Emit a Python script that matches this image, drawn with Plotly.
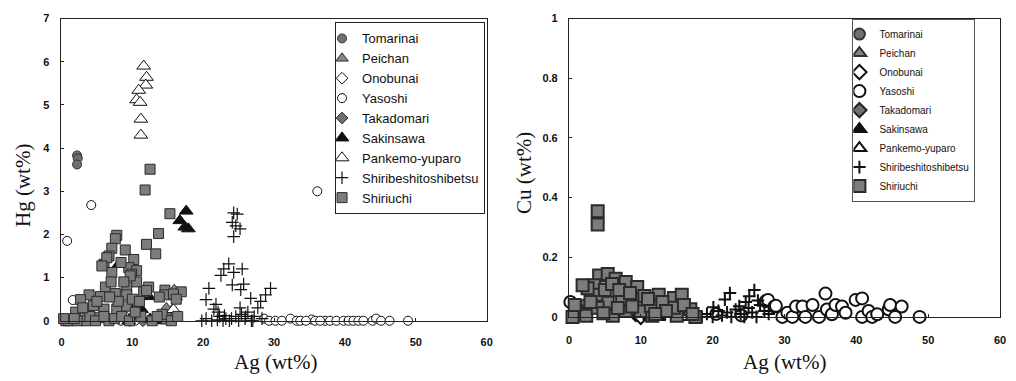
import plotly.graph_objects as go

W, H = 1016, 381

# ---------------- data: left panel (Ag vs Hg) ----------------
tomarinai_ag_l = [2.2, 2.3, 2.2, 2.0]
tomarinai_hg = [3.83, 3.76, 3.62, 0.05]

peichan_ag_l = [15.9, 15.6, 16.2, 9.0, 15.3, 14.8]
peichan_hg = [0.72, 0.25, 0.55, 0.05, 0.0, 0.3]

onobunai_ag_l = [9.3, 9.6, 10.2]
onobunai_hg = [0.05, 0.0, 0.12]

yasoshi_ag_l = [0.8, 4.2, 36.1, 1.6, 10.4, 16.0, 8.4, 28.6, 29.3, 30.2, 31.1, 32.3,
                33.2, 33.7, 35.3, 35.8, 37.2, 37.9, 38.8, 39.8, 40.5, 41.2, 41.9,
                42.6, 43.9, 44.4, 45.1, 46.3, 48.9, 34.5, 36.5]
yasoshi_hg = [1.85, 2.68, 3.0, 0.48, 0.0, 0.1, 0.0, 0.05, 0.0, 0.0, 0.0, 0.05,
              0.0, 0.0, 0.03, 0.0, 0.0, 0.0, 0.0, 0.0, 0.0, 0.0, 0.0,
              0.0, 0.0, 0.05, 0.0, 0.0, 0.0, 0.0, 0.0]

takadomari_ag_l = [10.8, 11.5]
takadomari_hg = [0.2, 0.0]

sakinsawa_ag_l = [17.6, 16.7, 17.4, 17.9, 8.1, 9.7, 10.6, 11.3, 10.6, 12.5, 13.2, 9.5, 12.3]
sakinsawa_hg = [2.54, 2.32, 2.17, 2.13, 1.31, 0.3, 0.22, 0.26, 0.11, 0.04, 0.0, 0.0, 0.56]

pankemo_ag_l = [11.6, 12.0, 11.9, 10.9, 10.6, 11.1, 11.2, 11.2, 15.8]
pankemo_hg = [5.9, 5.64, 5.46, 5.34, 5.12, 5.06, 4.67, 4.3, 0.26]

shiribeshi_ag_l = [24.3, 24.8, 24.1, 24.6, 25.2, 24.3, 23.6, 22.9, 25.5, 24.3, 22.5,
                   24.1, 25.7, 25.3, 29.5, 28.8, 26.7, 28.1, 20.8, 20.4, 21.8, 21.5,
                   20.4, 22.1, 22.3, 22.8, 23.2, 23.7, 24.6, 25.0, 25.4, 25.9, 26.3,
                   26.8, 27.2, 27.7, 28.3, 21.2, 19.8, 22.0, 23.0, 24.0, 25.2, 26.0, 27.0]
shiribeshi_hg = [2.5, 2.47, 2.28, 2.2, 2.13, 1.95, 1.32, 1.2, 1.2, 1.12, 1.05,
                 0.83, 0.85, 0.72, 0.75, 0.6, 0.52, 0.45, 0.75, 0.49, 0.38, 0.27,
                 0.05, 0.2, 0.1, 0.0, 0.05, 0.0, 0.1, 0.0, 0.15, 0.05, 0.2,
                 0.0, 0.1, 0.3, 0.05, 0.0, 0.0, 0.02, 0.12, 0.05, 0.3, 0.1, 0.0]

shiriuchi_ag_l = [12.5, 11.8, 15.3, 13.7, 12.0, 13.3, 7.8, 7.6, 7.1, 6.7, 6.0, 7.1,
                  9.0, 10.2, 9.5, 10.6, 9.9, 10.6, 12.3, 11.6, 14.6, 16.9, 14.6, 6.2,
                  7.6, 9.2, 9.2, 5.5, 3.9, 2.7, 3.6, 6.0, 7.8, 9.2, 0.6, 3.4, 5.3,
                  6.7, 14.8, 6.4, 5.7, 9.7, 8.4, 8.8, 7.0, 10.0, 11.0, 12.0, 8.0,
                  4.5, 2.0, 1.0, 2.2, 4.0, 4.8, 6.0, 7.5, 8.5, 9.6, 11.2, 12.8,
                  14.2, 15.5, 16.4, 3.0, 5.0, 6.8, 10.4, 13.8, 15.8, 16.2, 1.8, 0.3, 13.5]
shiriuchi_hg = [3.51, 3.03, 2.48, 2.02, 1.77, 1.55, 1.98, 1.9, 1.68, 1.5, 1.31, 1.12,
                1.64, 1.42, 1.23, 1.16, 1.08, 0.9, 0.78, 0.67, 0.71, 0.67, 0.6, 0.78,
                0.63, 0.78, 0.6, 0.56, 0.6, 0.49, 0.27, 0.27, 0.27, 0.34, 0.0, 0.0, 0.07,
                0.0, 0.04, 1.46, 1.27, 1.04, 1.35, 0.9, 0.9, 0.5, 0.45, 0.7, 0.45,
                0.35, 0.2, 0.0, 0.0, 0.1, 0.0, 0.1, 0.05, 0.1, 0.0, 0.1, 0.0,
                0.15, 0.0, 0.1, 0.3, 0.45, 0.55, 0.2, 0.55, 0.62, 0.5, 0.05, 0.05, 0.1]

# ---------------- data: right panel (Ag vs Cu) ----------------
tomarinai_ag_r = [2.2, 1.5]
tomarinai_cu = [0.04, 0.02]

peichan_ag_r = [8.0, 15.5, 16.0]
peichan_cu = [0.02, 0.01, 0.03]

onobunai_ag_r = [9.3, 10.0]
onobunai_cu = [0.01, 0.0]

yasoshi_ag_r = [0.2, 27.4, 27.7, 28.6, 28.8, 29.7, 30.4, 31.1, 31.6, 32.5, 32.9, 33.9,
                34.8, 35.7, 35.9, 36.6, 37.1, 38.0, 38.5, 39.9, 40.8, 40.8, 41.7,
                42.2, 42.9, 44.5, 44.7, 45.4, 46.3, 48.8, 20.5, 24.0]
yasoshi_cu = [0.05, 0.053, 0.057, 0.035, 0.037, 0.0, 0.014, 0.0, 0.035, 0.035, 0.0, 0.04,
              0.0, 0.078, 0.025, 0.009, 0.04, 0.035, 0.014, 0.057, 0.062, 0.0, 0.02,
              0.0, 0.009, 0.025, 0.04, 0.0, 0.035, 0.0, 0.01, 0.005]

takadomari_ag_r = [10.8]
takadomari_cu = [0.01]

sakinsawa_ag_r = [9.7, 10.6, 11.3, 12.5, 17.4, 16.7]
sakinsawa_cu = [0.01, 0.02, 0.0, 0.0, 0.01, 0.0]

pankemo_ag_r = [11.5, 15.8]
pankemo_cu = [0.01, 0.0]

shiribeshi_ag_r = [22.4, 21.7, 25.8, 25.1, 20.1, 23.7, 18.5, 19.2, 20.0, 20.8, 21.3, 22.0,
                   22.6, 23.2, 23.9, 24.4, 25.0, 25.5, 26.1, 26.6, 27.2, 27.8, 24.6, 26.3]
shiribeshi_cu = [0.08, 0.058, 0.09, 0.069, 0.032, 0.036, 0.0, 0.01, 0.0, 0.02, 0.005, 0.015,
                 0.0, 0.025, 0.01, 0.0, 0.03, 0.015, 0.0, 0.04, 0.02, 0.01, 0.05, 0.055]

shiriuchi_ag_r = [4.0, 4.0, 4.2, 5.4, 3.5, 6.5, 7.9, 9.5, 12.5, 14.6, 15.7, 16.9, 7.4, 5.4,
                  3.8, 1.0, 10.0, 11.6, 15.0, 6.1, 2.4, 4.0, 14.6, 17.6, 7.9, 9.5, 11.4,
                  2.6, 1.9, 0.5, 3.0, 5.0, 6.0, 7.0, 8.5, 10.5, 11.0, 13.0, 13.5, 16.0,
                  12.0, 8.8, 6.8, 4.8, 0.8, 17.2]
shiriuchi_cu = [0.354, 0.31, 0.139, 0.144, 0.106, 0.128, 0.117, 0.10, 0.074, 0.063, 0.074,
                0.026, 0.058, 0.047, 0.074, 0.02, 0.02, 0.004, 0.004, 0.004, 0.004, 0.031,
                0.031, 0.0, 0.02, 0.058, 0.037, 0.096, 0.106, 0.0, 0.05, 0.09, 0.11, 0.09,
                0.08, 0.07, 0.06, 0.05, 0.02, 0.04, 0.01, 0.035, 0.03, 0.012, 0.04, 0.01]

names = ["Tomarinai", "Peichan", "Onobunai", "Yasoshi", "Takadomari", "Sakinsawa",
         "Pankemo-yuparo", "Shiribeshitoshibetsu", "Shiriuchi"]

left_data = [(tomarinai_ag_l, tomarinai_hg), (peichan_ag_l, peichan_hg),
             (onobunai_ag_l, onobunai_hg), (yasoshi_ag_l, yasoshi_hg),
             (takadomari_ag_l, takadomari_hg), (sakinsawa_ag_l, sakinsawa_hg),
             (pankemo_ag_l, pankemo_hg), (shiribeshi_ag_l, shiribeshi_hg),
             (shiriuchi_ag_l, shiriuchi_hg)]
right_data = [(tomarinai_ag_r, tomarinai_cu), (peichan_ag_r, peichan_cu),
              (onobunai_ag_r, onobunai_cu), (yasoshi_ag_r, yasoshi_cu),
              (takadomari_ag_r, takadomari_cu), (sakinsawa_ag_r, sakinsawa_cu),
              (pankemo_ag_r, pankemo_cu), (shiribeshi_ag_r, shiribeshi_cu),
              (shiriuchi_ag_r, shiriuchi_cu)]

# marker styles: (symbol, fill, line colour, size_left, size_right)
styles = [
    ("circle", "#6f6f6f", "#333333", 9, 11),
    ("triangle-up", "#858585", "#333333", 11, 12),
    ("diamond", "white", "#111111", 9, 11),
    ("circle", "white", "#111111", 9, 12),
    ("diamond", "#707070", "#222222", 9, 11),
    ("triangle-up", "#111111", "#111111", 12, 12),
    ("triangle-up", "white", "#111111", 12, 12),
    ("cross-thin", "#111111", "#111111", 9, 9),
    ("square", "#7c7c7c", "#2a2a2a", 10, 12),
]

fig = go.Figure()

for i, name in enumerate(names):
    sym, fill, lc, sl, sr = styles[i]
    thin = sym == "cross-thin"
    ax, ay = left_data[i]
    fig.add_trace(go.Scatter(
        x=ax, y=ay, mode="markers", name=name, xaxis="x", yaxis="y",
        legend="legend", cliponaxis=False,
        marker=dict(symbol=sym, size=sl, color=fill if not thin else lc,
                    line=dict(color=lc, width=1.2 if thin else 1))))
for i, name in enumerate(names):
    sym, fill, lc, sl, sr = styles[i]
    thin = sym == "cross-thin"
    bx, by = right_data[i]
    fig.add_trace(go.Scatter(
        x=bx, y=by, mode="markers", name=name, xaxis="x2", yaxis="y2",
        legend="legend2", cliponaxis=False,
        marker=dict(symbol=sym, size=sr, color=fill if not thin else lc,
                    line=dict(color=lc, width=2))))

tickfont = dict(family="Liberation Sans, Arial", size=11, color="#111111", weight="bold")
axis_common = dict(showgrid=False, zeroline=False, showline=True, linecolor="#222222",
                   linewidth=1, mirror=True, ticks="inside", ticklen=3,
                   tickcolor="#222222", tickfont=tickfont)

fig.update_layout(
    width=W, height=H, margin=dict(l=0, r=0, t=0, b=0),
    paper_bgcolor="white", plot_bgcolor="white",
    xaxis=dict(domain=[59 / W, 488 / W], range=[0, 60], tickvals=[0, 10, 20, 30, 40, 50, 60],
               anchor="y", ticklabelstandoff=11, **axis_common),
    yaxis=dict(domain=[(H - 325) / H, (H - 13) / H], range=[0, 7],
               tickvals=[0, 1, 2, 3, 4, 5, 6, 7], anchor="x", ticklabelstandoff=9,
               **axis_common),
    xaxis2=dict(domain=[571 / W, 1006 / W], range=[0, 60],
                tickvals=[0, 10, 20, 30, 40, 50, 60], anchor="y2", ticklabelstandoff=13,
                **axis_common),
    yaxis2=dict(domain=[(H - 321) / H, (H - 13) / H], range=[0, 1],
                tickvals=[0, 0.2, 0.4, 0.6, 0.8, 1],
                ticktext=["0", "0.2", "0.4", "0.6", "0.8", "1"], anchor="x2",
                ticklabelstandoff=8, **axis_common),
    legend=dict(x=335 / W, y=(H - 17) / H, xanchor="left", yanchor="top",
                bgcolor="white", bordercolor="#222222", borderwidth=1,
                font=dict(family="Liberation Sans, Arial", size=13, color="#111111"),
                indentation=-14, tracegroupgap=0),
    legend2=dict(x=857 / W, y=(H - 13) / H, xanchor="left", yanchor="top",
                 bgcolor="white", bordercolor="#555555", borderwidth=1,
                 font=dict(family="Liberation Sans, Arial", size=10, color="#111111"),
                 indentation=-14, tracegroupgap=0),
    showlegend=True,
)

title_font = dict(family="Liberation Serif, Times New Roman", size=21, color="#111111")
fig.add_annotation(text="Hg (wt%)", x=20 / W, y=(H - 185) / H, xref="paper", yref="paper",
                   textangle=-90, showarrow=False, font=title_font,
                   xanchor="center", yanchor="middle")
fig.add_annotation(text="Ag (wt%)", x=275 / W, y=(H - 368) / H, xref="paper", yref="paper",
                   showarrow=False, font=title_font, xanchor="center", yanchor="middle")
fig.add_annotation(text="Cu (wt%)", x=525 / W, y=(H - 172) / H, xref="paper", yref="paper",
                   textangle=-90, showarrow=False, font=title_font,
                   xanchor="center", yanchor="middle")
fig.add_annotation(text="Ag (wt%)", x=788 / W, y=(H - 368) / H, xref="paper", yref="paper",
                   showarrow=False, font=title_font, xanchor="center", yanchor="middle")

fig.write_html("out.html")
